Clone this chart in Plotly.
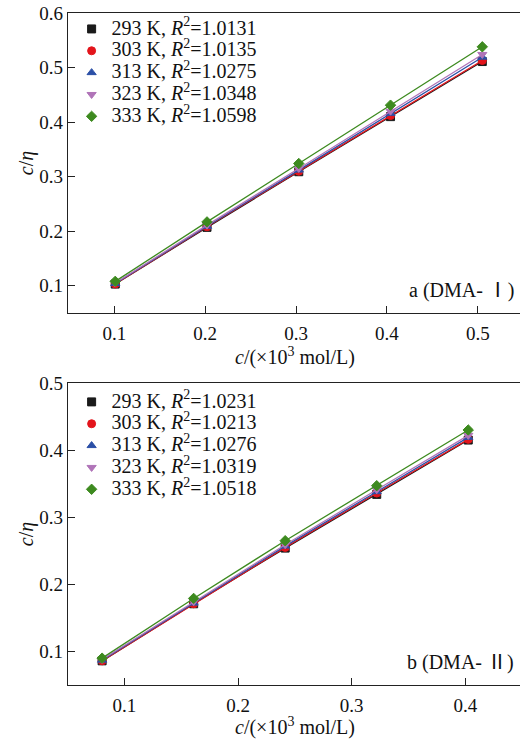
import plotly.graph_objects as go

temps = ["293 K", "303 K", "313 K", "323 K", "333 K"]
r2_a = ["1.0131", "1.0135", "1.0275", "1.0348", "1.0598"]
r2_b = ["1.0231", "1.0213", "1.0276", "1.0319", "1.0518"]

x_a = [0.101, 0.202, 0.303, 0.404, 0.505]
y_a = {
    "293 K": [0.103, 0.207, 0.309, 0.410, 0.511],
    "303 K": [0.103, 0.208, 0.310, 0.412, 0.513],
    "313 K": [0.104, 0.209, 0.312, 0.416, 0.519],
    "323 K": [0.105, 0.211, 0.315, 0.420, 0.524],
    "333 K": [0.108, 0.217, 0.324, 0.431, 0.538],
}
x_b = [0.0805, 0.161, 0.2415, 0.322, 0.4025]
y_b = {
    "293 K": [0.086, 0.171, 0.254, 0.334, 0.415],
    "303 K": [0.086, 0.171, 0.255, 0.336, 0.416],
    "313 K": [0.087, 0.172, 0.257, 0.338, 0.419],
    "323 K": [0.088, 0.174, 0.259, 0.341, 0.422],
    "333 K": [0.090, 0.179, 0.265, 0.347, 0.430],
}

colors = ["#1a1a1a", "#e3141b", "#2b4fa6", "#b074b8", "#3d8a1f"]
symbols = ["square", "circle", "triangle-up", "triangle-down", "diamond"]

FONT = "'Liberation Serif', 'Times New Roman', 'Noto Sans CJK SC', serif"
TXT = 20
fig = go.Figure()

def add_panel(xs, ys, r2s, xa, ya, legend):
    for i, t in enumerate(temps):
        fig.add_trace(go.Scatter(
            x=xs, y=ys[t], mode="lines+markers", xaxis=xa, yaxis=ya,
            line=dict(color=colors[i], width=1.3),
            marker=dict(symbol=symbols[i], size=8, color=colors[i],
                        line=dict(color=colors[i], width=1)),
            showlegend=False))
    for i, t in enumerate(temps):
        fig.add_trace(go.Scatter(
            x=[None], y=[None], mode="markers", xaxis=xa, yaxis=ya,
            marker=dict(symbol=symbols[i], size=8, color=colors[i],
                        line=dict(color=colors[i], width=1)),
            name=(f"<span style='font-size:{TXT}px'>{t}, <i>R</i>"
                  f"<sup>2</sup>={r2s[i]}</span>"),
            legend=legend))

add_panel(x_a, y_a, r2_a, "x", "y", "legend")
add_panel(x_b, y_b, r2_b, "x2", "y2", "legend2")

axis_common = dict(
    showline=True, linecolor="#222", linewidth=1.2, ticks="inside",
    ticklen=7, tickwidth=1.2, tickcolor="#222", showgrid=False,
    zeroline=False, tickfont=dict(family=FONT, size=19, color="#111"),
)
ytitle = dict(text="<i>c</i>/<i>η</i>",
              font=dict(family=FONT, size=TXT, color="#111"), standoff=0)

leg_common = dict(xanchor="left", yanchor="top", bgcolor="rgba(0,0,0,0)",
                  font=dict(family=FONT, size=14.5, color="#111"),
                  itemwidth=30, tracegroupgap=0)

XT = "<i>c</i>/(×10<sup>3</sup> mol/L)"
ann_font = dict(family=FONT, size=TXT, color="#111")

fig.update_layout(
    width=520, height=742,
    margin=dict(l=68, r=0, t=13, b=57),
    paper_bgcolor="white", plot_bgcolor="white",
    font=dict(family=FONT, size=TXT, color="#111"),
    xaxis=dict(axis_common, domain=[0, 1], range=[0.049, 0.5465],
               tickvals=[0.1, 0.2, 0.3, 0.4, 0.5], mirror=True,
               ticklabelstandoff=3, anchor="y"),
    yaxis=dict(axis_common, domain=[0.5536, 1], range=[0.05, 0.6],
               tickvals=[0.1, 0.2, 0.3, 0.4, 0.5, 0.6],
               title=ytitle, anchor="x"),
    xaxis2=dict(axis_common, domain=[0, 1], range=[0.0505, 0.448],
                tickvals=[0.1, 0.2, 0.3, 0.4], mirror=True,
                ticklabelstandoff=3, anchor="y2"),
    yaxis2=dict(axis_common, domain=[0, 0.4494], range=[0.05, 0.5],
                tickvals=[0.1, 0.2, 0.3, 0.4, 0.5],
                title=ytitle, anchor="x2"),
    legend=dict(leg_common, x=0.008, y=1.0),
    legend2=dict(leg_common, x=0.008, y=0.445),
    annotations=[
        dict(text=XT, xref="x domain", yref="y domain", x=0.502, y=-0.1465,
             xanchor="center", yanchor="middle", showarrow=False, font=ann_font),
        dict(text=XT, xref="x2 domain", yref="y2 domain", x=0.502, y=-0.139,
             xanchor="center", yanchor="middle", showarrow=False, font=ann_font),
        dict(text="a (DMA- Ⅰ)", xref="x domain", yref="y domain", x=0.75, y=0.03,
             xanchor="left", yanchor="bottom", showarrow=False, font=ann_font),
        dict(text="b (DMA- Ⅱ)", xref="x2 domain", yref="y2 domain", x=0.745, y=0.03,
             xanchor="left", yanchor="bottom", showarrow=False, font=ann_font),
    ],
)

fig.write_html("out.html", config={"displayModeBar": False},
               post_script="document.body.style.margin='0';document.body.style.overflow='hidden';")
